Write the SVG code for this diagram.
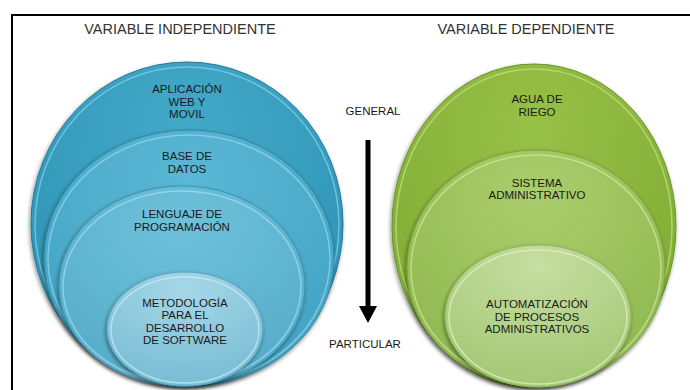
<svg xmlns="http://www.w3.org/2000/svg" width="690" height="390" viewBox="0 0 690 390">
<defs>
<style>
.t{font-family:"Liberation Sans",Arial,sans-serif;fill:#1a1a1a;text-anchor:middle}
.n{font-size:11.5px}
.h{font-size:14.5px;fill:#333}
.rim{fill:none;stroke-width:1.5;opacity:0.65}
</style>
<radialGradient id="b1" cx="0.5" cy="0.2" r="0.8"><stop offset="0" stop-color="#42a9c9"/><stop offset="1" stop-color="#2d92b3"/></radialGradient>
<radialGradient id="b2" cx="0.5" cy="0.2" r="0.8"><stop offset="0" stop-color="#5ab8d5"/><stop offset="1" stop-color="#42a2c2"/></radialGradient>
<radialGradient id="b3" cx="0.5" cy="0.2" r="0.8"><stop offset="0" stop-color="#6ec1da"/><stop offset="1" stop-color="#56acc9"/></radialGradient>
<radialGradient id="b4" cx="0.5" cy="0.15" r="0.85"><stop offset="0" stop-color="#a6d8e8"/><stop offset="1" stop-color="#78bcd4"/></radialGradient>
<radialGradient id="g1" cx="0.5" cy="0.2" r="0.8"><stop offset="0" stop-color="#97c046"/><stop offset="1" stop-color="#7fab32"/></radialGradient>
<radialGradient id="g2" cx="0.5" cy="0.2" r="0.8"><stop offset="0" stop-color="#aacd6c"/><stop offset="1" stop-color="#8fb84e"/></radialGradient>
<radialGradient id="g3" cx="0.5" cy="0.15" r="0.85"><stop offset="0" stop-color="#c6dea2"/><stop offset="1" stop-color="#a4c874"/></radialGradient>
<filter id="sh" x="-10%" y="-10%" width="120%" height="120%"><feGaussianBlur in="SourceAlpha" stdDeviation="2"/><feOffset dx="-1" dy="2"/><feComponentTransfer><feFuncA type="linear" slope="0.45"/></feComponentTransfer><feMerge><feMergeNode/><feMergeNode in="SourceGraphic"/></feMerge></filter>
</defs>
<rect width="690" height="390" fill="#fff"/>
<rect x="12" y="15" width="720" height="420" fill="none" stroke="#000" stroke-width="2"/>
<text class="t h" x="180" y="34">VARIABLE INDEPENDIENTE</text>
<text class="t h" x="526" y="34">VARIABLE DEPENDIENTE</text>

<g id="blue-1">
<ellipse cx="187" cy="224" rx="156" ry="162" fill="url(#b1)" stroke="#217a98" stroke-width="1" filter="url(#sh)"/>
<ellipse class="rim" cx="187" cy="225" rx="152" ry="158" stroke="#8fd6ee"/>
<text class="t n" x="187" y="93">APLICACIÓN</text><text class="t n" x="187" y="105.5">WEB Y</text><text class="t n" x="187" y="118">MOVIL</text>
</g>
<g id="blue-2">
<ellipse cx="189" cy="258" rx="145" ry="128" fill="url(#b2)" stroke="#2f88a6" stroke-width="1" filter="url(#sh)"/>
<ellipse class="rim" cx="189" cy="259" rx="141" ry="124" stroke="#9adcf0"/>
<text class="t n" x="187" y="160">BASE DE</text><text class="t n" x="187" y="173">DATOS</text>
</g>
<g id="blue-3">
<ellipse cx="182" cy="286" rx="123" ry="100" fill="url(#b3)" stroke="#3d93b0" stroke-width="1" filter="url(#sh)"/>
<ellipse class="rim" cx="182" cy="287" rx="119" ry="96" stroke="#a8e2f2"/>
<text class="t n" x="182" y="218">LENGUAJE DE</text><text class="t n" x="182" y="231">PROGRAMACIÓN</text>
</g>
<g id="blue-4">
<ellipse cx="185" cy="329" rx="78" ry="57" fill="url(#b4)" stroke="#5aa3bd" stroke-width="1" filter="url(#sh)"/>
<ellipse class="rim" cx="185" cy="330" rx="74" ry="53" stroke="#d2f0f8"/>
<text class="t n" x="185" y="306.5">METODOLOGÍA</text><text class="t n" x="185" y="319">PARA EL</text><text class="t n" x="185" y="331.5">DESARROLLO</text><text class="t n" x="185" y="344">DE SOFTWARE</text>
</g>

<g id="green-1">
<ellipse cx="534" cy="226" rx="142" ry="162" fill="url(#g1)" stroke="#6a9526" stroke-width="1" filter="url(#sh)"/>
<ellipse class="rim" cx="534" cy="227" rx="138" ry="158" stroke="#c7e58e"/>
<text class="t n" x="537" y="103">AGUA DE</text><text class="t n" x="537" y="115.5">RIEGO</text>
</g>
<g id="green-2">
<ellipse cx="536" cy="268" rx="129" ry="118" fill="url(#g2)" stroke="#7ba43e" stroke-width="1" filter="url(#sh)"/>
<ellipse class="rim" cx="536" cy="269" rx="125" ry="114" stroke="#d6eca8"/>
<text class="t n" x="537" y="186.5">SISTEMA</text><text class="t n" x="537" y="199">ADMINISTRATIVO</text>
</g>
<g id="green-3">
<ellipse cx="538" cy="316" rx="93" ry="71" fill="url(#g3)" stroke="#8fb560" stroke-width="1" filter="url(#sh)"/>
<ellipse class="rim" cx="538" cy="317" rx="89" ry="67" stroke="#e8f4d2"/>
<text class="t n" x="537" y="308">AUTOMATIZACIÓN</text><text class="t n" x="537" y="320.5">DE PROCESOS</text><text class="t n" x="537" y="333">ADMINISTRATIVOS</text>
</g>

<text class="t n" x="373" y="115">GENERAL</text>
<text class="t n" x="365" y="348">PARTICULAR</text>
<g id="connectors">
<line x1="368" y1="140" x2="368" y2="307" stroke="#000" stroke-width="5"/>
<path d="M359,306 L377,306 L368,323 Z" fill="#000"/>
</g>
</svg>
